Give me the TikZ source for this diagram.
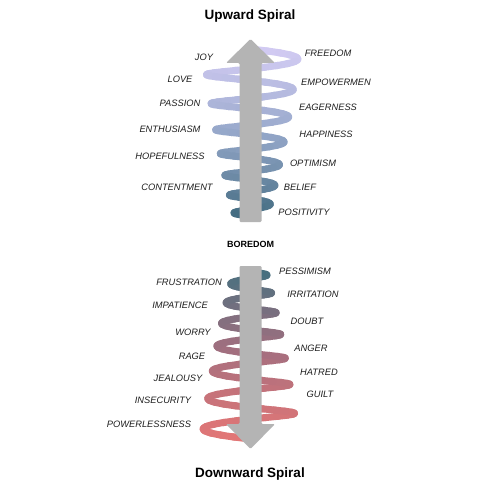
\documentclass[tikz,border=0pt]{standalone}
\usepackage{fontspec}
\setmainfont{Liberation Sans}
\usepackage{xcolor}
\usepackage{tikz}

\definecolor{arrowgray}{HTML}{B4B4B4}
\definecolor{upA}{HTML}{D2CBF3}
\definecolor{upB}{HTML}{93A6C8}
\definecolor{upC}{HTML}{426B80}
\definecolor{downA}{HTML}{E27676}
\definecolor{downB}{HTML}{A56F7F}
\definecolor{downC}{HTML}{45707F}
\definecolor{labeltext}{HTML}{1E1E1E}

\tikzset{
  feeling/.style={font=\itshape\fontsize{9.3}{11}\selectfont, text=labeltext, inner sep=0pt},
  heading/.style={font=\bfseries\fontsize{13.5}{16}\selectfont, inner sep=0pt},
  ribbon/.style={line width=7pt, line cap=round, line join=round},
  bigarrow/.style={fill=arrowgray, rounded corners=1.2pt},
}

\begin{document}
\begin{tikzpicture}[x=1pt, y=-1pt,
    declare function={
      coilr(\s)=48-4.6*\s;
      coildrop(\z)=17*\z+0.9*\z*\z+0.003*\z*\z*\z*\z;
      hx(\s)=251+coilr(\s)*sin(360*\s);
      hy(\s)=213-coildrop(6.75-\s)-0.04*coilr(\s)*cos(360*\s);
    }]
        \fill[white] (0,0) rectangle (500,500);
        \useasboundingbox (0,0) rectangle (500,500);

        % upward coil
        \foreach \i in {0,...,139}{
          \pgfmathsetmacro\sa{0.05*\i}
          \pgfmathsetmacro\sb{0.05*\i+0.06}
          \ifdim\sa pt<3pt
            \pgfmathtruncatemacro\pct{100*(1-\sa/3)}
            \colorlet{coilc}{upA!\pct!upB}
          \else
            \pgfmathtruncatemacro\pct{100*(1-(\sa-3)/4)}
            \colorlet{coilc}{upB!\pct!upC}
          \fi
          \draw[ribbon, coilc] plot[smooth, domain=\sa:\sb, samples=7] ({hx(\x)},{hy(\x)});
        }

        % downward coil
        \foreach \i in {0,...,139}{
          \pgfmathsetmacro\sa{0.05*\i}
          \pgfmathsetmacro\sb{0.05*\i+0.06}
          \ifdim\sa pt<3pt
            \pgfmathtruncatemacro\pct{100*(1-\sa/3)}
            \colorlet{coilc}{downA!\pct!downB}
          \else
            \pgfmathtruncatemacro\pct{100*(1-(\sa-3)/4)}
            \colorlet{coilc}{downB!\pct!downC}
          \fi
          \draw[ribbon, coilc] plot[smooth, domain=\sa:\sb, samples=7] ({501-hx(\x)},{488-hy(\x)});
        }

        % arrows
        \fill[bigarrow] (239.5,222) -- (239.5,63) -- (226,63) -- (250.5,39) -- (275,63) -- (261.5,63) -- (261.5,222) -- cycle;
        \fill[bigarrow] (239.5,266) -- (239.5,424) -- (226,424) -- (250.5,449) -- (275,424) -- (261.5,424) -- (261.5,266) -- cycle;

        \node[heading] (upTitle) at (250,16) {Upward Spiral};
        \node[heading] (downTitle) at (250,474) {Downward Spiral};
        \node[font=\bfseries\fontsize{9}{11}\selectfont, inner sep=0pt] (boredom) at (250.5,244) {BOREDOM};

        % upward feelings
        \node[feeling] (joy) at (204,57) {JOY};
        \node[feeling] (love) at (180,79) {LOVE};
        \node[feeling] (passion) at (180,103) {PASSION};
        \node[feeling] (enthusiasm) at (170,129) {ENTHUSIASM};
        \node[feeling] (hopefulness) at (170,156) {HOPEFULNESS};
        \node[feeling] (contentment) at (177,187) {CONTENTMENT};
        \node[feeling] (freedom) at (328,53) {FREEDOM};
        \node[feeling] (empowerment) at (336,82) {EMPOWERMEN};
        \node[feeling] (eagerness) at (328,107) {EAGERNESS};
        \node[feeling] (happiness) at (326,134) {HAPPINESS};
        \node[feeling] (optimism) at (313,163) {OPTIMISM};
        \node[feeling] (belief) at (300,187) {BELIEF};
        \node[feeling] (positivity) at (304,212) {POSITIVITY};

        % downward feelings
        \node[feeling] (frustration) at (189,282) {FRUSTRATION};
        \node[feeling] (impatience) at (180,305) {IMPATIENCE};
        \node[feeling] (worry) at (193,332) {WORRY};
        \node[feeling] (rage) at (192,356) {RAGE};
        \node[feeling] (jealousy) at (178,378) {JEALOUSY};
        \node[feeling] (insecurity) at (163,400) {INSECURITY};
        \node[feeling] (powerlessness) at (149,424) {POWERLESSNESS};
        \node[feeling] (pessimism) at (305,271) {PESSIMISM};
        \node[feeling] (irritation) at (313,294) {IRRITATION};
        \node[feeling] (doubt) at (307,321) {DOUBT};
        \node[feeling] (anger) at (311,348) {ANGER};
        \node[feeling] (hatred) at (319,372) {HATRED};
        \node[feeling] (guilt) at (320,394) {GUILT};
    \end{tikzpicture}
\end{document}
